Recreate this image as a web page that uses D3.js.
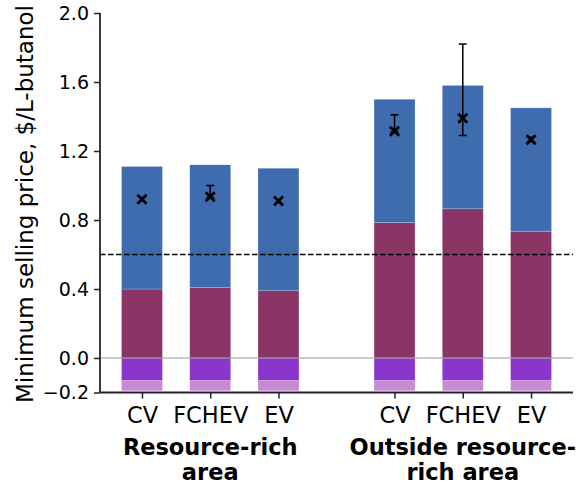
<!DOCTYPE html>
<html lang="en">
<head>
    <meta charset="UTF-8">
    <title>Minimum selling price</title>
    <script src="https://cdn.jsdelivr.net/npm/d3@7"></script>
    <style>
        body { margin: 0; background: #fff; }
        svg text { font-family: "DejaVu Sans", sans-serif; fill: #000; }
    </style>
</head>
<body>
<svg id="chart" width="581" height="484"></svg>
<script>
    // values
    var categories = ['CV', 'FCHEV', 'EV', 'CV', 'FCHEV', 'EV']
    var positions = [0, 1, 2, 3.7, 4.7, 5.7]
    var negLower = [-0.06, -0.06, -0.06, -0.06, -0.06, -0.06]
    var negUpper = [-0.13, -0.13, -0.13, -0.13, -0.13, -0.13]
    var maroon = [0.40, 0.41, 0.39, 0.785, 0.865, 0.735]
    var blue = [0.71, 0.71, 0.71, 0.715, 0.715, 0.715]
    var net = [0.92, 0.935, 0.91, 1.315, 1.39, 1.265]
    var errLow = [0.92, 0.93, 0.91, 1.31, 1.29, 1.255]
    var errHigh = [0.92, 1.00, 0.91, 1.41, 1.82, 1.28]
    var groupCenters = [1, 4.7]
    var groupLabels = [['Resource-rich', 'area'], ['Outside resource-', 'rich area']]
    var yTicks = [-0.2, 0.0, 0.4, 0.8, 1.2, 1.6, 2.0]
    var threshold = 0.6

    var svg = d3.select('#chart')
    var x = d3.scaleLinear().domain([-0.615, 6.315]).range([100, 573])
    var y = d3.scaleLinear().domain([-0.2, 2.0]).range([392.5, 13])
    var barW = x(0.6) - x(0)

    var rows = positions.map(function (p, i) {
        return {
            pos: p,
            segs: [
                {y0: negUpper[i], y1: negUpper[i] + negLower[i], c: '#c98ad4'},
                {y0: 0, y1: negUpper[i], c: '#8b35cf'},
                {y0: 0, y1: maroon[i], c: '#8a3566'},
                {y0: maroon[i], y1: maroon[i] + blue[i], c: '#3e6cae'}
            ]
        }
    })

    var bars = svg.append('g')
    rows.forEach(function (r) {
        bars.selectAll(null).data(r.segs).enter().append('rect')
            .attr('x', x(r.pos) - barW / 2)
            .attr('width', barW)
            .attr('y', function (d) { return y(Math.max(d.y0, d.y1)) })
            .attr('height', function (d) { return Math.abs(y(d.y0) - y(d.y1)) })
            .attr('fill', function (d) { return d.c })
            .attr('stroke', '#fff').attr('stroke-opacity', 0.35).attr('stroke-width', 0.6)
    })

    // zero line
    svg.append('line')
        .attr('x1', x(-0.615)).attr('x2', x(6.315))
        .attr('y1', y(0)).attr('y2', y(0))
        .attr('stroke', '#999').attr('stroke-width', 1.2)

    // threshold line
    svg.append('line')
        .attr('x1', x(-0.615)).attr('x2', x(6.315))
        .attr('y1', y(threshold)).attr('y2', y(threshold))
        .attr('stroke', '#000').attr('stroke-width', 1.5)
        .attr('stroke-dasharray', '5.5,2.5')

    // error bars
    var eb = svg.append('g').attr('stroke', '#000').attr('stroke-width', 1.5)
    positions.forEach(function (p, i) {
        if (errHigh[i] - errLow[i] < 0.001) return
        var cx = x(p)
        eb.append('line').attr('x1', cx).attr('x2', cx).attr('y1', y(errLow[i])).attr('y2', y(errHigh[i]))
        eb.append('line').attr('x1', cx - 4).attr('x2', cx + 4).attr('y1', y(errLow[i])).attr('y2', y(errLow[i]))
        eb.append('line').attr('x1', cx - 4).attr('x2', cx + 4).attr('y1', y(errHigh[i])).attr('y2', y(errHigh[i]))
    })

    // x markers
    var s = 4.5
    svg.append('g').selectAll('path').data(net).enter().append('path')
        .attr('d', function (d, i) {
            var cx = x(positions[i]), cy = y(d)
            return 'M' + (cx - s) + ',' + (cy - s) + 'L' + (cx + s) + ',' + (cy + s) +
                'M' + (cx - s) + ',' + (cy + s) + 'L' + (cx + s) + ',' + (cy - s)
        })
        .attr('stroke', '#000').attr('stroke-width', 2.8).attr('fill', 'none')

    // y axis
    var yAxis = svg.append('g').attr('transform', 'translate(100,0)')
        .call(d3.axisLeft(y).tickValues(yTicks).tickSize(6).tickPadding(5)
            .tickFormat(function (d) { return d3.format('.1f')(d).replace('-', '\u2212') }))
    yAxis.selectAll('text').style('font-size', '19px')
    yAxis.selectAll('line').attr('stroke', '#222').attr('stroke-width', 1.5)
    yAxis.select('.domain').attr('stroke', '#222').attr('stroke-width', 1.8)
        .attr('d', 'M0,' + y(2.0) + 'V' + y(-0.2))

    // x axis
    var xAxis = svg.append('g').attr('transform', 'translate(0,' + y(-0.2) + ')')
        .call(d3.axisBottom(x).tickValues(positions).tickSize(6).tickPadding(8)
            .tickFormat(function (d, i) { return categories[i] }))
    xAxis.selectAll('text').style('font-size', '22.5px').attr('dy', '0.72em')
    xAxis.selectAll('line').attr('stroke', '#222').attr('stroke-width', 1.5)
    xAxis.select('.domain').attr('stroke', '#222').attr('stroke-width', 1.8)
        .attr('d', 'M' + x(-0.615) + ',0H' + x(6.315))

    // group labels
    groupCenters.forEach(function (c, gi) {
        groupLabels[gi].forEach(function (t, li) {
            svg.append('text')
                .attr('x', x(c)).attr('y', 455 + li * 25)
                .attr('text-anchor', 'middle')
                .style('font-size', '22.5px').style('font-weight', 'bold')
                .text(t)
        })
    })

    // y label
    svg.append('text')
        .attr('transform', 'translate(33,403) rotate(-90)')
        .attr('text-anchor', 'start')
        .style('font-size', '23px')
        .text('Minimum selling price, $/L-butanol')
</script>
</body>
</html>
